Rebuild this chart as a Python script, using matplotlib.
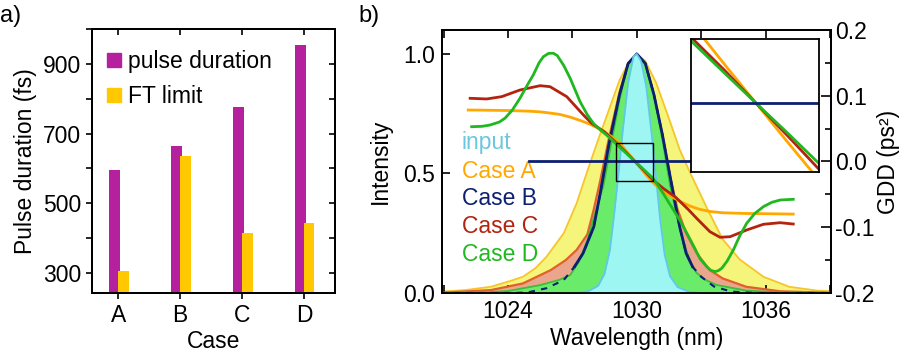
import matplotlib
matplotlib.use("Agg")
import matplotlib.pyplot as plt
from matplotlib.lines import Line2D
from matplotlib.patches import Rectangle

plt.rcParams['font.family'] = ['Liberation Sans', 'DejaVu Sans']
plt.rcParams['font.size'] = 16.5
plt.rcParams['axes.unicode_minus'] = False

# ---------------- panel a data ----------------
cases = ['A', 'B', 'C', 'D']
pulse_duration = [597, 665, 777, 955]
ft_limit = [307, 635, 415, 443]
yticks_a = [300, 500, 700, 900]

# ---------------- panel b data ----------------
# spectra (wavelength nm, normalised intensity)
wl_input = [1027.3, 1027.8, 1028.2, 1028.5, 1028.75, 1028.95, 1029.15, 1029.35, 1029.6, 1029.85, 1030.0,
            1030.2, 1030.45, 1030.7, 1030.9, 1031.1, 1031.3, 1031.55, 1031.9, 1032.4, 1033.0]
int_input = [0.0, 0.01, 0.03, 0.08, 0.18, 0.33, 0.50, 0.68, 0.88, 0.99, 1.0,
             0.97, 0.86, 0.66, 0.48, 0.30, 0.16, 0.07, 0.025, 0.006, 0.0]

wl_A = [1020.9, 1022.0, 1023.2, 1024.1, 1024.7, 1025.3, 1025.8, 1026.6, 1027.2, 1027.7, 1028.2, 1028.6,
        1029.2, 1029.6, 1030.0, 1030.4, 1030.9, 1031.5, 1032.0, 1032.5, 1033.3, 1034.0, 1034.8, 1035.9,
        1037.1, 1038.4, 1039.1]
int_A = [0.006, 0.012, 0.026, 0.05, 0.068, 0.105, 0.152, 0.25, 0.375, 0.51, 0.64, 0.74,
         0.89, 0.96, 1.0, 0.97, 0.88, 0.73, 0.60, 0.50, 0.35, 0.225, 0.14, 0.068,
         0.026, 0.010, 0.007]

wl_B = [1020.9, 1024.0, 1024.9, 1025.8, 1026.6, 1027.1, 1027.5, 1028.0, 1028.3, 1028.7, 1029.2, 1029.6,
        1030.0, 1030.4, 1030.8, 1031.2, 1031.7, 1032.0, 1032.3, 1032.6, 1033.0, 1033.6, 1034.4, 1035.5, 1039.1]
int_B = [0.0, 0.0, 0.002, 0.02, 0.054, 0.11, 0.166, 0.277, 0.417, 0.62, 0.83, 0.96,
         1.0, 0.96, 0.83, 0.66, 0.417, 0.277, 0.166, 0.11, 0.068, 0.027, 0.006, 0.0, 0.0]

wl_C = [1020.9, 1023.2, 1024.7, 1026.0, 1026.7, 1027.2, 1027.7, 1028.0, 1028.3, 1028.7, 1029.2, 1029.6,
        1030.0, 1030.4, 1030.8, 1031.2, 1031.55, 1031.9, 1032.3, 1032.8, 1033.4, 1034.0, 1035.1, 1036.7, 1039.1]
int_C = [0.001, 0.012, 0.040, 0.096, 0.138, 0.18, 0.245, 0.35, 0.47, 0.645, 0.84, 0.96,
         1.0, 0.96, 0.83, 0.66, 0.49, 0.35, 0.25, 0.166, 0.096, 0.061, 0.026, 0.007, 0.001]

wl_D = [1020.9, 1023.0, 1024.0, 1025.5, 1026.4, 1026.9, 1027.3, 1027.7, 1028.05, 1028.45, 1028.8, 1029.2,
        1029.6, 1030.0, 1030.4, 1030.8, 1031.2, 1031.55, 1031.9, 1032.3, 1032.6, 1032.8, 1033.2, 1033.7,
        1035.1, 1036.7, 1039.1]
int_D = [0.0, 0.003, 0.008, 0.033, 0.055, 0.075, 0.13, 0.22, 0.33, 0.45, 0.62, 0.81,
         0.96, 1.0, 0.96, 0.83, 0.64, 0.45, 0.31, 0.18, 0.11, 0.083, 0.055, 0.034,
         0.01, 0.002, 0.0]

# GDD curves (wavelength nm, GDD ps^2)
gwl_A = [1022.15, 1023.0, 1024.0, 1025.0, 1025.5, 1026.0, 1026.43, 1026.9, 1027.36, 1027.8, 1028.3, 1028.8,
         1029.22, 1029.55, 1029.92, 1030.3, 1030.68, 1031.0, 1031.3, 1031.7, 1032.1, 1032.5, 1032.9,
         1033.4, 1034.0, 1035.0, 1036.2, 1037.29]
gdd_A = [0.0783, 0.078, 0.0775, 0.0765, 0.0755, 0.0735, 0.0715, 0.0675, 0.0625, 0.057, 0.049, 0.0385,
         0.0277, 0.0145, 0.0, -0.015, -0.0297, -0.0395, -0.047, -0.055, -0.062, -0.068, -0.0725,
         -0.076, -0.078, -0.079, -0.0795, -0.080]

gwl_B = [1025.0, 1030.0, 1035.0]
gdd_B = [0.0, 0.0, 0.0]

gwl_C = [1022.24, 1023.01, 1023.71, 1024.56, 1025.5, 1025.96, 1026.74, 1027.51, 1027.9, 1028.5, 1029.04,
         1029.5, 1029.92, 1030.35, 1030.77, 1031.24, 1031.8, 1032.4, 1032.79, 1033.41, 1033.88, 1034.35,
         1035.12, 1035.9, 1036.68, 1037.29]
gdd_C = [0.0961, 0.0951, 0.0986, 0.1087, 0.1153, 0.1138, 0.0986, 0.071, 0.058, 0.045, 0.0285,
         0.014, 0.0, -0.0142, -0.0285, -0.041, -0.054, -0.073, -0.0864, -0.1068, -0.1153, -0.1144,
         -0.1042, -0.0955, -0.0931, -0.0951]

gwl_D = [1022.31, 1022.8, 1023.17, 1023.6, 1023.87, 1024.2, 1024.56, 1024.9, 1025.18, 1025.45, 1025.65,
         1025.9, 1026.12, 1026.3, 1026.6, 1026.9, 1027.36, 1027.7, 1027.98, 1028.3, 1028.6, 1029.04,
         1029.5, 1029.92, 1030.35, 1030.77, 1031.24, 1031.6, 1032.02, 1032.35, 1032.64, 1032.95, 1033.26,
         1033.45, 1033.65, 1033.8, 1033.96, 1034.2, 1034.5, 1034.8, 1035.12, 1035.5, 1035.9, 1036.3,
         1036.68, 1037.29]
gdd_D = [0.0529, 0.0535, 0.0555, 0.060, 0.066, 0.078, 0.0961, 0.116, 0.1316, 0.150, 0.1594,
         0.1645, 0.1646, 0.161, 0.146, 0.1265, 0.091, 0.071, 0.058, 0.048, 0.040, 0.0269,
         0.0128, 0.0, -0.013, -0.026, -0.049, -0.068, -0.090, -0.110, -0.128, -0.148, -0.160,
         -0.1655, -0.1676, -0.166, -0.1624, -0.152, -0.1346, -0.113, -0.094, -0.079, -0.0687, -0.062,
         -0.0586, -0.0575]

xticks_b = [1024, 1030, 1036]
labels_b = ['input', 'Case A', 'Case B', 'Case C', 'Case D']

# colours
c_purple = '#b5209f'
c_gold = '#ffc800'
col_A = '#ffa800'
col_B = '#0c1f70'
col_C = '#b3230f'
col_D = '#20b820'
col_in = '#6cc6de'

fig = plt.figure(figsize=(9.03, 3.57), dpi=100)

# ================= panel a =================
rect_a = [0.1019, 0.1793, 0.2690, 0.7395]
axa = fig.add_axes(rect_a)
xpos = list(range(len(cases)))
w = 0.175
axa.bar([x - 0.15 for x in xpos], pulse_duration, width=w, align='edge', color=c_purple, zorder=2)
axa.bar([x - 0.005 for x in xpos], ft_limit, width=w, align='edge', color=c_gold, zorder=3)
axa.set_xlim(-0.424, 3.5)
axa.set_ylim(243, 1000)
axa.set_xticks(xpos)
axa.set_xticklabels(cases)
axa.set_yticks(yticks_a)
axa.set_yticks([400, 600, 800, 1000], minor=True)
axa.tick_params(axis='both', which='both', direction='out', top=False, right=False, width=1.2)
axa.tick_params(which='major', length=4, pad=4)
axa.tick_params(which='minor', length=4)
axa.set_xlabel('Case', labelpad=2)
axa.set_ylabel('Pulse duration (fs)', labelpad=4)
for s in axa.spines.values():
    s.set_linewidth(1.3)
# inward mirror ticks on the right and top
axr = axa.twinx()
axr.set_ylim(axa.get_ylim())
axr.set_yticks([300, 400, 500, 600, 700, 800, 900, 1000])
axr.tick_params(axis='y', direction='in', length=4.5, width=1.2, labelright=False)
axt = axa.twiny()
axt.set_xlim(axa.get_xlim())
axt.set_xticks(xpos)
axt.tick_params(axis='x', direction='in', length=4.5, width=1.2, labeltop=False)
for s in list(axr.spines.values()) + list(axt.spines.values()):
    s.set_linewidth(1.3)
handles = [Line2D([], [], marker='s', ls='none', color=c_purple, markersize=10),
           Line2D([], [], marker='s', ls='none', color=c_gold, markersize=10)]
axa.legend(handles, ['pulse duration', 'FT limit'], loc='upper left', frameon=False,
           handlelength=0.5, handletextpad=0.35, borderaxespad=0.3, labelspacing=0.5,
           bbox_to_anchor=(0.0, 0.98))
fig.text(0.0, 0.955, 'a)', fontsize=17, va='center', ha='left')

# ================= panel b =================
axb = fig.add_axes([0.4895, 0.1793, 0.4308, 0.7367])
axb.fill_between(wl_A, int_A, color='#f4f57a', lw=0, zorder=1)
axb.plot(wl_A, int_A, color='#f6c52a', lw=1.3, zorder=1.1)
axb.fill_between(wl_C, int_C, color='#eba58c', lw=0, zorder=2)
axb.plot(wl_C, int_C, color='#e0602a', lw=1.6, zorder=2.1)
axb.fill_between(wl_D, int_D, color='#6aec6a', lw=0, zorder=3)
axb.plot(wl_D, int_D, color='#38c038', lw=1.3, zorder=3.1)
axb.plot(wl_B, int_B, color=col_B, lw=1.5, ls=(0, (3, 3)), zorder=3.5)
wl_Bc = [x for x, y in zip(wl_B, int_B) if y >= 0.1]
int_Bc = [y for y in int_B if y >= 0.1]
axb.plot(wl_Bc, int_Bc, color=col_B, lw=2.0, zorder=3.6)
axb.fill_between(wl_input, int_input, color='#9ef6f2', lw=0, zorder=4)
axb.plot(wl_input, int_input, color='#62c8ea', lw=1.3, zorder=4.1)

axb.set_xlim(1020.93, 1039.05)
axb.set_ylim(0, 1.1)
axb.set_xticks(xticks_b)
axb.set_xticks([1021, 1027, 1033, 1039], minor=True)
axb.set_yticks([0.0, 0.5, 1.0])
axb.set_yticklabels(['0.0', '0.5', '1.0'])
axb.tick_params(axis='both', which='both', direction='in', top=True, width=1.2)
axb.tick_params(which='major', length=6, pad=5)
axb.tick_params(which='minor', length=6)
axb.set_xlabel('Wavelength (nm)', labelpad=3)
axb.set_ylabel('Intensity', labelpad=8)
for s in axb.spines.values():
    s.set_linewidth(1.3)

label_cols = [col_in, col_A, col_B, col_C, col_D]
label_y = [0.628, 0.51, 0.397, 0.28, 0.163]
for t, c, yv in zip(labels_b, label_cols, label_y):
    axb.text(1021.86, yv, t, color=c, fontsize=16.5, va='center', ha='left', zorder=10)

ax2 = axb.twinx()
ax2.plot(gwl_A, gdd_A, color=col_A, lw=2.0)
ax2.plot(gwl_C, gdd_C, color=col_C, lw=2.0)
ax2.plot(gwl_D, gdd_D, color=col_D, lw=2.0)
ax2.plot(gwl_B, gdd_B, color=col_B, lw=2.0)
ax2.set_ylim(-0.2, 0.2)
ax2.set_yticks([-0.2, -0.1, 0.0, 0.1, 0.2])
ax2.set_yticks([-0.15, -0.05, 0.05, 0.15], minor=True)
ax2.tick_params(axis='y', which='both', direction='in', width=1.2)
ax2.tick_params(which='major', length=7, pad=3)
ax2.tick_params(which='minor', length=4)
ax2.set_ylabel('GDD (ps²)', labelpad=2)
for s in ax2.spines.values():
    s.set_linewidth(1.3)

box_x = (1029.04, 1030.77)
box_y = (-0.0297, 0.0277)
ax2.add_patch(Rectangle((box_x[0], box_y[0]), box_x[1] - box_x[0], box_y[1] - box_y[0],
                        fill=False, ec='black', lw=1.0, zorder=5))

axi = fig.add_axes([0.7652, 0.5182, 0.1417, 0.3725])
axi.set_facecolor('white')
axi.plot(gwl_A, gdd_A, color=col_A, lw=2.0)
axi.plot(gwl_C, gdd_C, color=col_C, lw=2.0)
axi.plot(gwl_D, gdd_D, color=col_D, lw=2.0)
axi.plot(gwl_B, gdd_B, color=col_B, lw=2.0)
axi.set_xlim(*box_x)
axi.set_ylim(*box_y)
axi.set_xticks([])
axi.set_yticks([])
for s in axi.spines.values():
    s.set_linewidth(1.3)

fig.text(0.397, 0.955, 'b)', fontsize=17, va='center', ha='left')

fig.savefig('out.png', dpi=100)
